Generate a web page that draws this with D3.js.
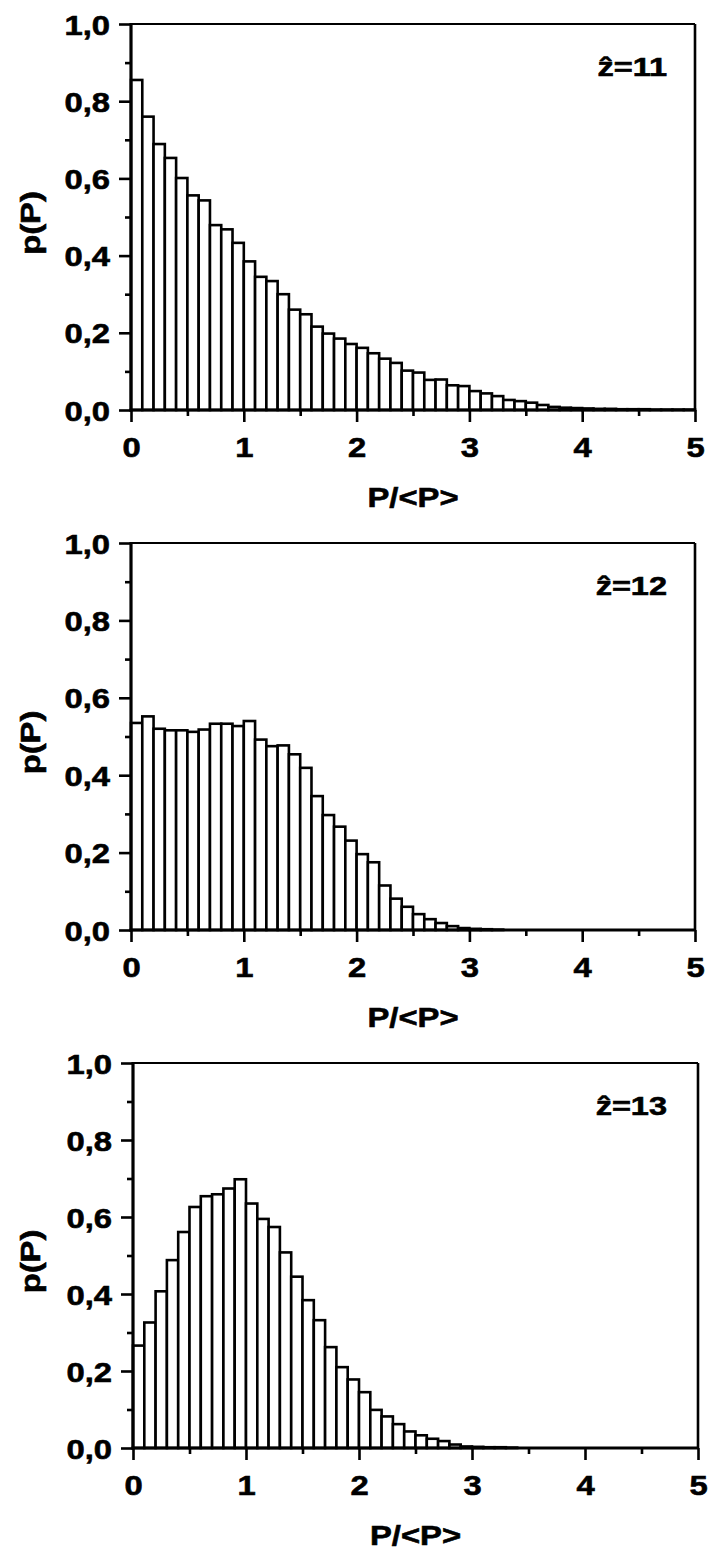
<!DOCTYPE html>
<html>
<head>
<meta charset="utf-8">
<script src="https://cdn.jsdelivr.net/npm/d3@7"></script>
<style>
  html, body { margin: 0; padding: 0; background: #fff; }
  svg { display: block; }
  text { font-family: "Liberation Sans", Arial, Helvetica, sans-serif; font-weight: bold; fill: #000;
         stroke: #000; stroke-width: 0.6px; }
</style>
</head>
<body>
<svg id="chart" width="708" height="1552"></svg>
<script>
// Histogram bins: lower edges of the 0.1-wide bins on P/<P> from 0 to 5
const binWidth = 0.1;
const binStarts = d3.range(0, 50).map(i => i / 10);

// Panel labels
const panelLabels = ["ẑ=11", "ẑ=12", "ẑ=13"];

// p(P) per bin, one array per panel
const pZ11 = [0.855, 0.760, 0.689, 0.653, 0.601, 0.556, 0.543, 0.479, 0.468, 0.433,
              0.385, 0.345, 0.334, 0.300, 0.260, 0.248, 0.216, 0.198, 0.185, 0.171,
              0.161, 0.147, 0.133, 0.122, 0.102, 0.097, 0.078, 0.079, 0.064, 0.062,
              0.049, 0.043, 0.036, 0.026, 0.023, 0.019, 0.013, 0.008, 0.006, 0.005,
              0.004, 0.003, 0.003, 0.002, 0.002, 0.002, 0.001, 0.001, 0.001, 0.001];
const pZ12 = [0.535, 0.552, 0.520, 0.516, 0.516, 0.512, 0.518, 0.533, 0.533, 0.527,
              0.540, 0.492, 0.475, 0.477, 0.454, 0.419, 0.346, 0.297, 0.267, 0.231,
              0.196, 0.175, 0.115, 0.081, 0.060, 0.041, 0.028, 0.018, 0.010, 0.005,
              0.003, 0.002, 0.001, 0, 0, 0, 0, 0, 0, 0,
              0, 0, 0, 0, 0, 0, 0, 0, 0, 0];
const pZ13 = [0.266, 0.326, 0.407, 0.488, 0.561, 0.626, 0.654, 0.659, 0.674, 0.698,
              0.635, 0.595, 0.574, 0.508, 0.445, 0.384, 0.332, 0.262, 0.210, 0.178,
              0.145, 0.099, 0.082, 0.062, 0.043, 0.033, 0.024, 0.018, 0.009, 0.004,
              0.003, 0.002, 0.002, 0.001, 0, 0, 0, 0, 0, 0,
              0, 0, 0, 0, 0, 0, 0, 0, 0, 0];

// Axis ticks and titles
const yTicks = [0, 0.2, 0.4, 0.6, 0.8, 1.0];
const yMinorTicks = [0.1, 0.3, 0.5, 0.7, 0.9];
const xTicks = [0, 1, 2, 3, 4, 5];
const xMinorTicks = [0.5, 1.5, 2.5, 3.5, 4.5];
const xTitle = "P/<P>";
const yTitle = "p(P)";

const svg = d3.select("#chart");
svg.append("rect").attr("width", 708).attr("height", 1552).attr("fill", "#fff");

const commaFmt = d3.formatLocale({ decimal: ",", thousands: ".", grouping: [3], currency: ["", ""] }).format(".1f");

const panels = [
  { values: pZ11, label: panelLabels[0], left: 131, right: 695, top: 24,   bottom: 410 },
  { values: pZ12, label: panelLabels[1], left: 131, right: 695, top: 543,  bottom: 930 },
  { values: pZ13, label: panelLabels[2], left: 133, right: 698, top: 1063, bottom: 1448 }
];

const SX = 1.17;       // horizontal stretch of the lettering
const FS = 28;         // tick / title font size

panels.forEach(p => {
  const x = d3.scaleLinear().domain([0, 5]).range([p.left, p.right]);
  const y = d3.scaleLinear().domain([0, 1]).range([p.bottom, p.top]);
  const g = svg.append("g");

  // bars
  const bins = binStarts.map((b, i) => ({ x0: b, x1: b + binWidth, v: p.values[i] }))
                        .filter(d => d.v > 0);
  g.append("g").selectAll("rect").data(bins).join("rect")
    .attr("x", d => x(d.x0))
    .attr("width", d => x(d.x1) - x(d.x0))
    .attr("y", d => y(d.v))
    .attr("height", d => y(0) - y(d.v))
    .attr("fill", "#fff")
    .attr("stroke", "#000")
    .attr("stroke-width", 2.6);

  // frame: top and right thinner, left and bottom axes heavier
  g.append("line").attr("x1", x(0)).attr("x2", x(5)).attr("y1", y(1)).attr("y2", y(1))
    .attr("stroke", "#000").attr("stroke-width", 2.2);
  g.append("line").attr("x1", x(5)).attr("x2", x(5)).attr("y1", y(1)).attr("y2", y(0))
    .attr("stroke", "#000").attr("stroke-width", 2.6);
  g.append("line").attr("x1", x(0)).attr("x2", x(0)).attr("y1", y(1) - 1).attr("y2", y(0) + 1.5)
    .attr("stroke", "#000").attr("stroke-width", 3.2);
  g.append("line").attr("x1", x(0) - 1.5).attr("x2", x(5) + 1).attr("y1", y(0)).attr("y2", y(0))
    .attr("stroke", "#000").attr("stroke-width", 3.2);

  // y axis
  const ya = g.append("g").attr("transform", `translate(${x(0)},0)`)
    .call(d3.axisLeft(y).tickValues(yTicks).tickSize(12).tickPadding(0).tickFormat(commaFmt));
  ya.append("g").call(d3.axisLeft(y).tickValues(yMinorTicks).tickSize(6).tickFormat(""));
  ya.selectAll(".domain").remove();
  ya.selectAll("line").attr("stroke", "#000").attr("stroke-width", 2.6);
  ya.selectAll("text")
    .attr("font-size", FS).attr("font-family", null).attr("fill", null)
    .attr("x", -21 / SX).attr("dy", "0.36em")
    .attr("transform", `scale(${SX},1)`);

  // x axis
  const xa = g.append("g").attr("transform", `translate(0,${y(0)})`)
    .call(d3.axisBottom(x).tickValues(xTicks).tickSize(12).tickFormat(d3.format("d")));
  xa.append("g").call(d3.axisBottom(x).tickValues(xMinorTicks).tickSize(6).tickFormat(""));
  xa.selectAll(".domain").remove();
  xa.selectAll("line").attr("stroke", "#000").attr("stroke-width", 2.6);
  xa.selectAll("text")
    .attr("font-size", FS).attr("font-family", null).attr("fill", null)
    .attr("y", 47).attr("dy", 0)
    .attr("transform", `scale(${SX},1)`);

  // axis titles
  g.append("text")
    .attr("transform", `translate(${(x(0) + x(5)) / 2},${y(0) + 97}) scale(${SX},1)`)
    .attr("text-anchor", "middle").attr("font-size", FS)
    .text(xTitle);
  g.append("text")
    .attr("transform", `translate(40,${(y(0) + y(1)) / 2 + 6}) rotate(-90) scale(${SX},1)`)
    .attr("text-anchor", "middle").attr("font-size", FS)
    .text(yTitle);

  // panel label
  g.append("text")
    .attr("transform", `translate(667,${y(1) + 52}) scale(1.25,1)`)
    .attr("text-anchor", "end").attr("font-size", 26)
    .text(p.label);
});
</script>
</body>
</html>
